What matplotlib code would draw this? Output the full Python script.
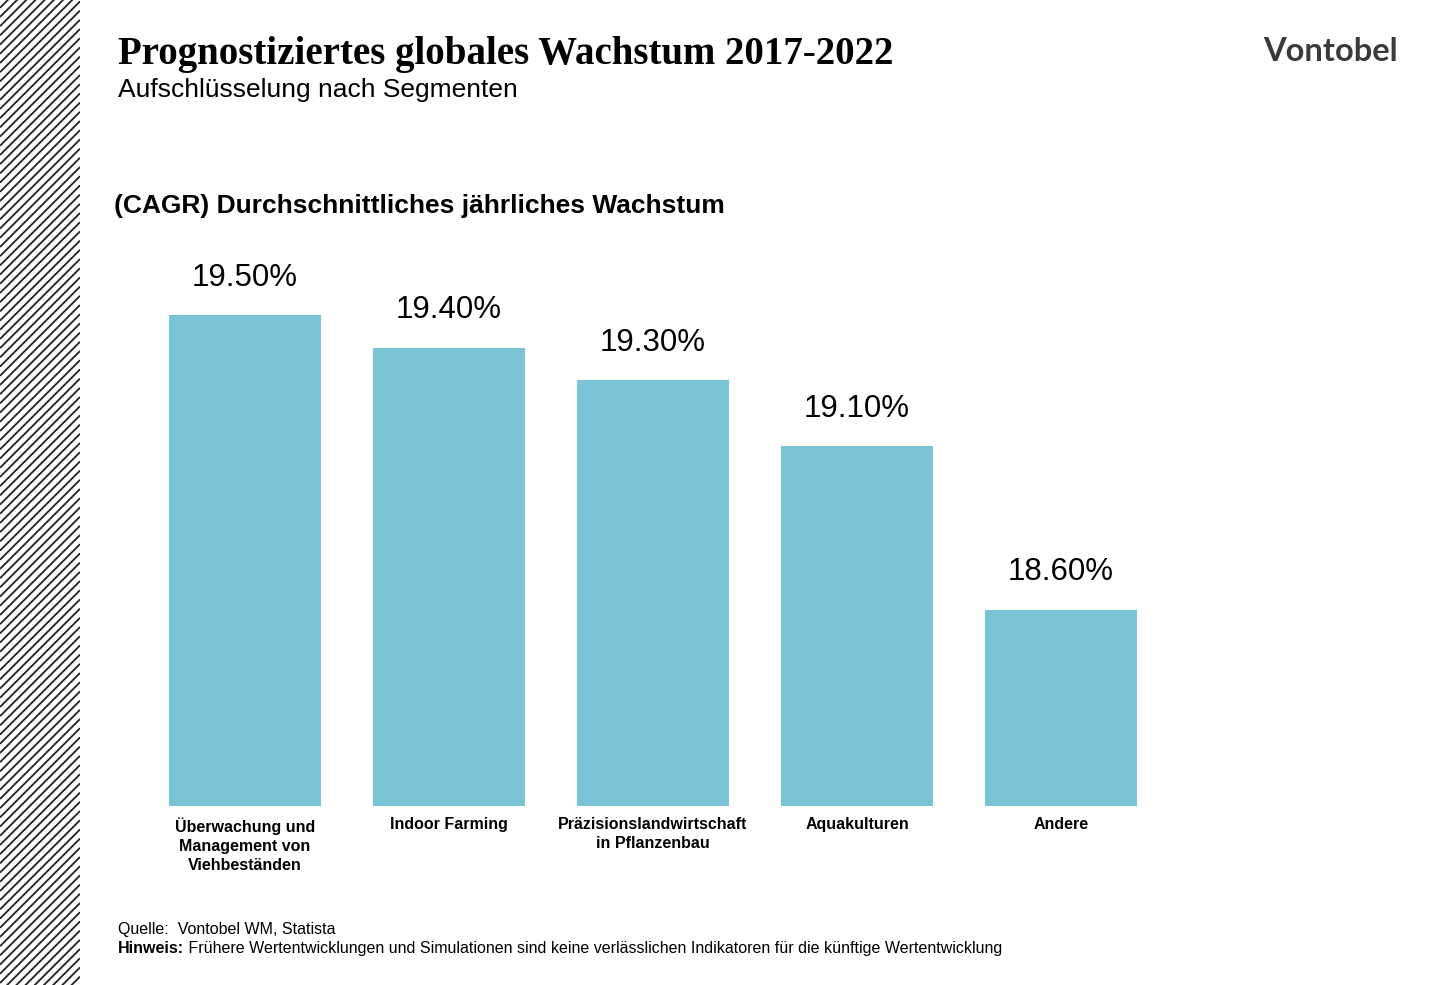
import matplotlib

matplotlib.use("Agg")
import matplotlib.pyplot as plt
import numpy as np

# data
categories = [
    "Überwachung und\nManagement von\nViehbeständen",
    "Indoor Farming",
    "Präzisionslandwirtschaft\nin Pflanzenbau",
    "Aquakulturen",
    "Andere",
]
cagr = [19.5, 19.4, 19.3, 19.1, 18.6]
value_labels = ["19.50%", "19.40%", "19.30%", "19.10%", "18.60%"]

title = "Prognostiziertes globales Wachstum 2017-2022"
subtitle = "Aufschlüsselung nach Segmenten"
chart_heading = "(CAGR) Durchschnittliches jährliches Wachstum"

W, H = 1440, 985
BAR_COLOR = "#7AC5D5"
SANS = ["Liberation Sans", "DejaVu Sans"]

plt.rcParams["font.family"] = SANS

fig = plt.figure(figsize=(W / 100, H / 100), dpi=100)
fig.patch.set_facecolor("white")

# hatched stripe on the left edge
hax = fig.add_axes([0, 0, 80 / W, 1])
hax.set_xlim(0, 80)
hax.set_ylim(0, H)
hax.axis("off")
for c in np.arange(-90, H + 10, 9.2):
    hax.plot([0, 80], [c, c + 80], color="#222222", lw=1.3, solid_capstyle="butt")

# bar chart
ax = fig.add_axes([143 / W, (H - 806) / H, 1020 / W, 556 / H])
x = np.arange(len(categories))
ax.bar(x, np.array(cagr) - 18.0, bottom=18.0, width=0.745, color=BAR_COLOR)
ax.set_xlim(-0.5, len(categories) - 0.5)
ax.set_ylim(18.0, 18.0 + 556 / 327.5)
for s in ax.spines.values():
    s.set_visible(False)
ax.set_yticks([])
ax.set_xticks(x)
ax.set_xticklabels(categories, fontsize=11.5, fontweight="bold", linespacing=1.35)
for lab in ax.get_xticklabels():
    lab.set_multialignment("center")
ax.tick_params(axis="x", length=0, pad=8)

for xi, v, lab in zip(x, cagr, value_labels):
    ax.annotate(lab, (xi, v), xytext=(0, 21), textcoords="offset points",
                ha="center", va="baseline", fontsize=22.5)

# titles
fig.text(118 / W, 1 - 64 / H, title, family=["Liberation Serif", "DejaVu Serif"],
         fontweight="bold", fontsize=28, va="baseline")
fig.text(118 / W, 1 - 97 / H, subtitle, fontsize=19, va="baseline")
fig.text(114 / W, 1 - 213 / H, chart_heading, fontsize=19, fontweight="bold",
         va="baseline")

# logo
fig.text(1398 / W, 1 - 61 / H, "Vontobel", family=["Lato", "DejaVu Sans"],
         fontweight="bold", fontsize=23.5, color="#3a3a3a", ha="right", va="baseline")

# footer
fig.text(118 / W, 1 - 934 / H, "Quelle:  Vontobel WM, Statista", fontsize=11.5,
         va="baseline")
hw = fig.text(118 / W, 1 - 953 / H, "Hinweis:", fontsize=11.5, fontweight="bold",
              va="baseline")
ax.annotate(
    " Frühere Wertentwicklungen und Simulationen sind keine verlässlichen "
    "Indikatoren für die künftige Wertentwicklung",
    xy=(1, 0), xycoords=hw, va="bottom", ha="left", fontsize=11.5,
    annotation_clip=False,
)

fig.savefig("out.png", dpi=100)
